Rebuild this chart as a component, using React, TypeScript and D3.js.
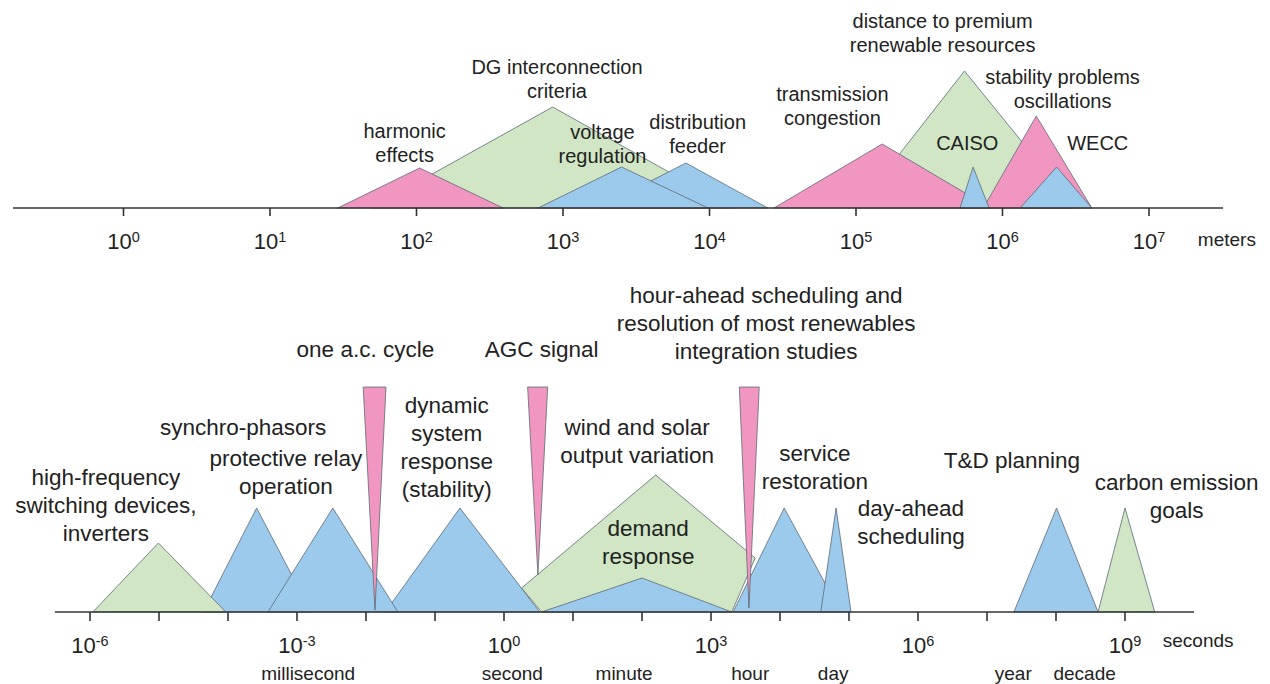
import React from "react";
import * as d3 from "d3";

// ---------------- data: spatial scale (meters) ----------------
const meterRange = [0.176, 3.2e7];
const meterTicks = [1, 10, 100, 1e3, 1e4, 1e5, 1e6, 1e7];

// each shape is a list of [meters, height] corners, drawn in order
const meterShapes = [
  { name: "DG interconnection criteria", color: "green", pts: [[49, 0], [850, 101], [14500, 0]] },
  { name: "distance to premium renewable resources", color: "green", pts: [[1.02e5, 0], [5.5e5, 137], [3.16e6, 0]] },
  { name: "harmonic effects", color: "pink", pts: [[29, 0], [105, 40], [390, 0]] },
  { name: "transmission congestion", color: "pink", pts: [[2.75e4, 0], [1.51e5, 64], [8.3e5, 0]] },
  { name: "stability problems oscillations", color: "pink", pts: [[7.4e5, 0], [1.7e6, 92], [4.07e6, 0]] },
  { name: "distribution feeder", color: "blue", pts: [[1740, 0], [6900, 45], [2.5e4, 0]] },
  { name: "voltage regulation", color: "blue", pts: [[676, 0], [2510, 41], [9770, 0]] },
  { name: "CAISO", color: "blue", pts: [[5.13e5, 0], [6.3e5, 41], [8.1e5, 0]] },
  { name: "WECC", color: "blue", pts: [[1.32e6, 0], [2.34e6, 41], [4.07e6, 0]] },
];

const meterLabels = [
  { lines: ["harmonic", "effects"], at: 83, h: 77 },
  { lines: ["DG interconnection", "criteria"], at: 910, h: 141 },
  { lines: ["voltage", "regulation"], at: 1860, h: 76 },
  { lines: ["distribution", "feeder"], at: 8300, h: 86 },
  { lines: ["transmission", "congestion"], at: 6.9e4, h: 114 },
  { lines: ["distance to premium", "renewable resources"], at: 3.9e5, h: 187 },
  { lines: ["stability problems", "oscillations"], at: 2.57e6, h: 131 },
  { lines: ["CAISO"], at: 5.75e5, h: 65 },
  { lines: ["WECC"], at: 4.47e6, h: 65 },
];

// ---------------- data: time scale (seconds) ----------------
const secondRange = [3.1e-7, 1e10];
const secondTicks = [1e-6, 1e-5, 1e-4, 1e-3, 1e-2, 1e-1, 1, 10, 100, 1e3, 1e4, 1e5, 1e6, 1e7, 1e8, 1e9];
const secondTickLabels = [
  { at: 1e-6, exp: "-6" },
  { at: 1e-3, exp: "-3" },
  { at: 1, exp: "0" },
  { at: 1e3, exp: "3" },
  { at: 1e6, exp: "6" },
  { at: 1e9, exp: "9" },
];
const timeUnits = [
  { text: "millisecond", at: 1.45e-3 },
  { text: "second", at: 1.32 },
  { text: "minute", at: 55 },
  { text: "hour", at: 3700 },
  { text: "day", at: 5.9e4 },
  { text: "year", at: 2.4e7 },
  { text: "decade", at: 2.6e8 },
];

const secondShapes = [
  { name: "synchro-phasors", color: "blue", pts: [[4.4e-5, 0], [2.6e-4, 104], [1.6e-3, 0]] },
  { name: "dynamic system response", color: "blue", pts: [[0.019, 0], [0.23, 104], [3.3, 0]] },
  { name: "protective relay operation", color: "blue", pts: [[3.8e-4, 0], [3.3e-3, 104], [0.029, 0]] },
  { name: "high-frequency switching", color: "green", pts: [[1.1e-6, 0], [9.8e-6, 69], [9.3e-5, 0]] },
  { name: "demand response", color: "green", pts: [[1.8, 24], [3.5, 0], [2000, 0], [4370, 54], [158, 137]] },
  { name: "wind and solar output variation", color: "blue", pts: [[3.5, 0], [100, 34], [2000, 0]] },
  { name: "service restoration", color: "blue", pts: [[2090, 0], [11500, 104], [7.6e4, 0]] },
  { name: "day-ahead scheduling", color: "blue", pts: [[3.9e4, 0], [6.5e4, 104], [1.07e5, 0]] },
  { name: "T&D planning", color: "blue", pts: [[2.45e7, 0], [1.02e8, 104], [4.07e8, 0]] },
  { name: "carbon emission goals", color: "green", pts: [[4.07e8, 0], [1e9, 104], [2.7e9, 0]] },
  { name: "one a.c. cycle", color: "pink", pts: [[9.1e-3, 225], [0.0195, 225], [0.0135, 2]] },
  { name: "AGC signal", color: "pink", pts: [[2.2, 225], [4.3, 225], [3.1, 37]] },
  { name: "hour-ahead scheduling", color: "pink", pts: [[2570, 225], [5000, 225], [3550, 4]] },
];

const secondLabels = [
  { lines: ["one a.c. cycle"], at: 9.8e-3, h: 263 },
  { lines: ["AGC signal"], at: 3.5, h: 263 },
  { lines: ["hour-ahead scheduling and", "resolution of most renewables", "integration studies"], at: 6300, h: 317 },
  { lines: ["synchro-phasors"], at: 1.66e-4, h: 185 },
  { lines: ["protective relay", "operation"], at: 6.9e-4, h: 154 },
  { lines: ["high-frequency", "switching devices,", "inverters"], at: 1.7e-6, h: 135 },
  { lines: ["dynamic", "system", "response", "(stability)"], at: 0.148, h: 207 },
  { lines: ["wind and solar", "output variation"], at: 85, h: 185 },
  { lines: ["demand", "response"], at: 123, h: 84 },
  { lines: ["service", "restoration"], at: 3.2e4, h: 159 },
  { lines: ["day-ahead", "scheduling"], at: 7.9e5, h: 104 },
  { lines: ["T&D planning"], at: 2.3e7, h: 152 },
  { lines: ["carbon emission", "goals"], at: 5.6e9, h: 130 },
];

const fills = { pink: "#f096c0", green: "#d0e6c5", blue: "#9ccaec" };
const FONT = "'Liberation Sans', Arial, Helvetica, sans-serif";
const INK = "#222";

function Panel({ xScale, yScale, range, ticks, shapes, labels, fontSize, lineGap, tickLen }) {
  const base = yScale(0);
  const line = d3.line()
    .x(d => xScale(d[0]))
    .y(d => yScale(d[1]));

  return (
    <g>
      {shapes.map(s => (
        <path
          key={s.name}
          d={line(s.pts) + "Z"}
          fill={fills[s.color]}
          stroke="#5d6975"
          strokeWidth={0.8}
          strokeLinejoin="round"
        />
      ))}
      <line x1={xScale(range[0])} x2={xScale(range[1])} y1={base} y2={base} stroke="#333" strokeWidth={1.6} />
      {ticks.map(t => (
        <line key={t} x1={xScale(t)} x2={xScale(t)} y1={base} y2={base + tickLen} stroke="#333" strokeWidth={1.6} />
      ))}
      {labels.map(l => (
        <text
          key={l.lines[0]}
          x={xScale(l.at)}
          y={yScale(l.h)}
          textAnchor="middle"
          fontSize={fontSize}
          fontFamily={FONT}
          fill={INK}
        >
          {l.lines.map((ln, i) => (
            <tspan key={i} x={xScale(l.at)} dy={i === 0 ? "0.35em" : lineGap}>{ln}</tspan>
          ))}
        </text>
      ))}
    </g>
  );
}

function Power({ x, y, exp }) {
  return (
    <text x={x} y={y} textAnchor="middle" fontSize={22} fontFamily={FONT} fill={INK}>
      10<tspan dy={-7} fontSize={14.5}>{exp}</tspan>
    </text>
  );
}

export default function App() {
  const width = 1270;
  const height = 684;

  // ---------------- scales ----------------
  const xMeters = d3.scaleLog().domain([1, 1e7]).range([123.5, 1149]);
  const yMeters = d3.scaleLinear().domain([0, 200]).range([208, 8]);
  const xSeconds = d3.scaleLog().domain([1e-6, 1e9]).range([90, 1125]);
  const ySeconds = d3.scaleLinear().domain([0, 320]).range([612, 292]);

  return (
    <svg
      width={width}
      height={height}
      style={{ position: "absolute", left: 0, top: 0, background: "#fff" }}
    >
      <Panel
        xScale={xMeters}
        yScale={yMeters}
        range={meterRange}
        ticks={meterTicks}
        shapes={meterShapes}
        labels={meterLabels}
        fontSize={20}
        lineGap={24}
        tickLen={8}
      />
      {meterTicks.map((t, i) => (
        <Power key={t} x={xMeters(t)} y={yMeters(0) + 41} exp={String(i)} />
      ))}
      <text x={xMeters(3.4e7)} y={yMeters(0) + 38} textAnchor="middle" fontSize={19} fontFamily={FONT} fill={INK}>
        meters
      </text>

      <Panel
        xScale={xSeconds}
        yScale={ySeconds}
        range={secondRange}
        ticks={secondTicks}
        shapes={secondShapes}
        labels={secondLabels}
        fontSize={22.5}
        lineGap={28}
        tickLen={9}
      />
      {secondTickLabels.map(t => (
        <Power key={t.exp} x={xSeconds(t.at)} y={ySeconds(0) + 41} exp={t.exp} />
      ))}
      <text x={xSeconds(1.15e10)} y={ySeconds(0) + 35} textAnchor="middle" fontSize={19} fontFamily={FONT} fill={INK}>
        seconds
      </text>
      {timeUnits.map(u => (
        <text key={u.text} x={xSeconds(u.at)} y={ySeconds(0) + 68} textAnchor="middle" fontSize={19} fontFamily={FONT} fill={INK}>
          {u.text}
        </text>
      ))}
    </svg>
  );
}
